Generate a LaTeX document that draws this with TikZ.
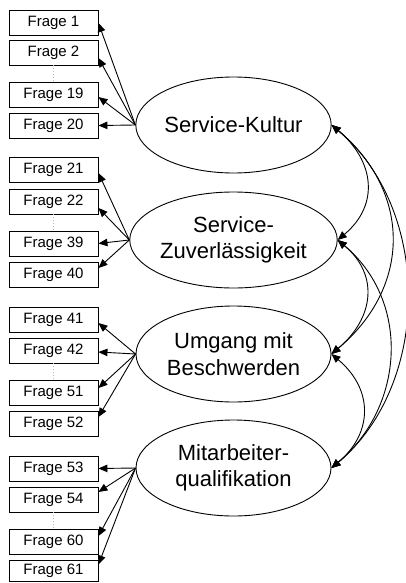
\documentclass[tikz,border=0pt]{standalone}
\usepackage{fontspec}
\setmainfont{Liberation Sans}
\usetikzlibrary{arrows.meta,shapes.geometric}

\tikzset{
  item/.style={draw, rectangle, minimum width=89pt, minimum height=25pt,
    inner sep=0pt, font=\fontsize{15}{17}\selectfont},
  factor/.style={draw, ellipse, minimum width=195pt, minimum height=96pt,
    inner sep=0pt, align=center, font=\fontsize{22}{26.5}\selectfont},
  load/.style={-{Triangle[length=9pt,width=7.5pt]}, line width=0.9pt},
  cov/.style={{Triangle[length=9pt,width=7.5pt]}-{Triangle[length=9pt,width=7.5pt]}, line width=0.9pt},
  gap/.style={gray!55, dotted, line width=1pt}
}

\begin{document}
\begin{tikzpicture}[x=1pt, y=-1pt, line width=0.9pt]
\useasboundingbox (0,0) rectangle (406,583);

% item boxes
\foreach \n/\yy in {1/22.5, 2/52.5, 19/94.5, 20/125.5,
                    21/169.5, 22/201.5, 39/243.5, 40/274.5,
                    41/319.5, 42/350.5, 51/392.5, 52/423.5,
                    53/468.5, 54/499.5, 60/541.5}
  \node[item] (f\n) at (53.5,\yy) {Frage \n};
\node[item, minimum height=21pt] (f61) at (53.5,570.5) {Frage 61};

% omitted items
\draw[gap] (f2.south) -- (f19.north);
\draw[gap] (f22.south) -- (f39.north);
\draw[gap] (f42.south) -- (f51.north);
\draw[gap] (f54.south) -- (f60.north);

% latent factors
\node[factor] (e1) at (233.5,125) {Service-Kultur};
\node[factor] (e2) at (233.5,240) {Service-\\Zuverlässigkeit};
\node[factor] (e3) at (233.5,354) {Umgang mit\\Beschwerden};
\node[factor] (e4) at (233.5,468) {Mitarbeiter-\\qualifikation};

% factor loadings
\draw[load] (e1.west) -- ([yshift=-0.5pt]f1.east);
\draw[load] (e1.west) -- ([yshift=-5.5pt]f2.east);
\draw[load] (e1.west) -- ([yshift=-2.5pt]f19.east);
\draw[load] (e1.west) -- (f20.east);

\draw[load] (e2.west) -- ([yshift=-3.5pt]f21.east);
\draw[load] (e2.west) -- ([yshift=-6.5pt]f22.east);
\draw[load] (e2.west) -- (f39.east);
\draw[load] (e2.west) -- ([yshift=6.5pt]f40.east);

\draw[load] (e3.west) -- ([yshift=-3.5pt]f41.east);
\draw[load] (e3.west) -- ([yshift=-1.5pt]f42.east);
\draw[load] (e3.west) -- ([yshift=4.5pt]f51.east);
\draw[load] (e3.west) -- ([yshift=6.5pt]f52.east);

\draw[load] (e4.west) -- (f53.east);
\draw[load] (e4.west) -- ([yshift=7.5pt]f54.east);
\draw[load] (e4.west) -- ([yshift=5.5pt]f60.east);
\draw[load] (e4.west) -- ([yshift=6pt]f61.east);

% factor covariances
\draw[cov] (e1.east) to[out=-40, in=40, looseness=1.23] (e2.east);
\draw[cov] (e2.east) to[out=-40, in=40, looseness=1.23] (e3.east);
\draw[cov] (e3.east) to[out=-40, in=40, looseness=1.23] (e4.east);
\draw[cov] (e1.east) to[out=-40, in=40, looseness=1.17] (e3.east);
\draw[cov] (e2.east) to[out=-40, in=40, looseness=1.07] (e4.east);
\draw[cov] (e1.east) to[out=-40, in=40, looseness=0.98] (e4.east);
\end{tikzpicture}
\end{document}
